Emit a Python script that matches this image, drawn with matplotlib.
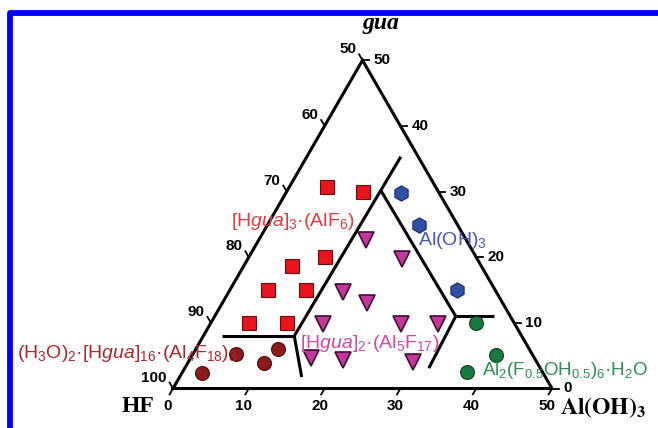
import numpy as np
import matplotlib
matplotlib.use("Agg")
import matplotlib.pyplot as plt
from matplotlib.lines import Line2D

plt.rcParams["mathtext.fontset"] = "custom"
plt.rcParams["mathtext.rm"] = "Liberation Sans"
plt.rcParams["mathtext.it"] = "Liberation Sans:italic"
plt.rcParams["mathtext.bf"] = "Liberation Sans:bold"

# compositions as (Al(OH)3, gua); HF = 100 - Al(OH)3 - gua
square_al = [5, 10, 10, 6.4, 5, 10, 5, 10]
square_gua = [30.7, 30, 20, 18.7, 15, 15, 10, 10]

circle_al = [2.6, 5.7, 10.1, 10.8]
circle_gua = [2.4, 5.3, 3.9, 6.0]

hex_al = [15.2, 20.0, 30.0]
hex_gua = [29.8, 24.9, 15.0]

green_al = [35.0, 40.0, 37.5]
green_gua = [10.0, 5.1, 2.5]

tri_al = [14.2, 20.3, 15.1, 19.1, 14.9, 25.2, 30.0, 15.8, 20.3, 29.6]
tri_gua = [22.6, 19.7, 14.7, 13.0, 9.8, 9.8, 9.8, 4.7, 4.3, 4.0]

# phase boundaries, each segment given as (al0, gua0, al1, gua1)
boundaries = [
    (2.5, 8.0, 12.0, 8.0),
    (12.0, 8.0, 16.1, 1.75),
    (12.0, 8.0, 12.4, 35.3),
    (12.3, 30.2, 31.8, 11.0),
    (31.8, 11.0, 36.8, 11.0),
    (31.8, 11.0, 32.2, 3.1),
]

bottom_ticks = [0, 10, 20, 30, 40, 50]      # Al(OH)3
right_ticks = [0, 10, 20, 30, 40, 50]       # gua
left_ticks = [50, 60, 70, 80, 90, 100]      # HF

H = np.sqrt(3) / 2
PX = 7.58  # pixels per composition unit


def to_xy(al, gua):
    al = np.asarray(al, dtype=float)
    gua = np.asarray(gua, dtype=float)
    return al + gua / 2, gua * H


fig = plt.figure(figsize=(6.58, 4.28), dpi=100)
ax = fig.add_axes([0, 0, 1, 1])
ax.set_xlim(-173 / PX, (658 - 173) / PX)
ax.set_ylim(-(428 - 388.5) / PX, 388.5 / PX)
ax.axis("off")

# outer triangle
tx, ty = to_xy([0, 50, 0, 0], [0, 0, 50, 0])
ax.plot(tx, ty, color="black", lw=2.2, solid_joinstyle="miter", zorder=2)

for a0, g0, a1, g1 in boundaries:
    bx, by = to_xy([a0, a1], [g0, g1])
    ax.plot(bx, by, color="black", lw=2.2, solid_capstyle="butt", zorder=2)

tick_len = 0.9
num_font = dict(family="Liberation Sans", weight="bold", fontsize=11)

# bottom axis: Al(OH)3
for v in bottom_ticks:
    x0, y0 = to_xy(v, 0)
    ax.plot([x0, x0 - 0.5 * tick_len], [y0, y0 - H * tick_len], color="black", lw=1.3)
    ax.text(x0 - 5 / PX, y0 - 17.5 / PX, str(v), ha="center", va="center", **num_font)

# right axis: gua
for v in right_ticks:
    x0, y0 = to_xy(50 - v, v)
    ax.plot([x0, x0 + tick_len], [y0, y0], color="black", lw=1.3)
    ax.text(x0 + 11 / PX, y0, str(v), ha="left", va="center", **num_font)

# left axis: HF
for v in left_ticks:
    x0, y0 = to_xy(0, 100 - v)
    ax.plot([x0, x0 - 0.5 * tick_len], [y0, y0 + H * tick_len], color="black", lw=1.3)
    ax.text(x0 - 6 / PX, y0 + 11 / PX, str(v), ha="right", va="center", **num_font)

# data points
sx, sy = to_xy(square_al, square_gua)
ax.plot(sx, sy, "s", ms=9.5, mfc="#e8151d", mec="#6e0b0b", mew=0.8, ls="none", zorder=3)

cx, cy = to_xy(circle_al, circle_gua)
ax.plot(cx, cy, "o", ms=10, mfc="#8c1a1c", mec="#4a0a0a", mew=0.8, ls="none", zorder=3)

hx, hy = to_xy(hex_al, hex_gua)
ax.plot(hx, hy, "h", ms=11, mfc="#2f4ea6", mec="#1a2860", mew=0.8, ls="none", zorder=3)

gx, gy = to_xy(green_al, green_gua)
ax.plot(gx, gy, "o", ms=10, mfc="#17793e", mec="#0c4020", mew=0.8, ls="none", zorder=3)

vx, vy = to_xy(tri_al, tri_gua)
ax.plot(vx, vy, "v", ms=11, mfc="#c4379c", mec="#3c0f30", mew=1.2, ls="none", zorder=3)

# phase labels
lab_font = dict(family="Liberation Sans", fontsize=14, ha="center", va="center", zorder=4)
ax.text(15.83, 21.97, r"[H$\mathit{gua}$]$_3$·(AlF$_6$)", color="#e23a40", **lab_font)
ax.text(36.81, 19.59, r"Al(OH)$_3$", color="#4858b2", **lab_font)
ax.text(-6.07, 4.68, r"(H$_3$O)$_2$·[H$\mathit{gua}$]$_{16}$·(Al$_4$F$_{18}$)$_3$",
        color="#a3292e", **lab_font)
ax.text(25.99, 6.0, r"[H$\mathit{gua}$]$_2$·(Al$_5$F$_{17}$)", color="#d246a6", **lab_font)
ax.text(51.72, 2.44, r"Al$_2$(F$_{0.5}$OH$_{0.5}$)$_6$·H$_2$O", color="#2f8c52",
        **{**lab_font, "fontsize": 13.5})

# corner titles
ax.text(27.44, 48.2, "gua", family="Liberation Serif", weight="bold", style="italic",
        fontsize=17, ha="center", va="center")
ax.text(-4.62, -2.31, "HF", family="Liberation Serif", weight="bold",
        fontsize=17, ha="center", va="center")
ax.text(51.06, -2.57, r"$\mathbf{Al(OH)_3}$", math_fontfamily="stix",
        fontsize=17, ha="left", va="center")

# blue frame
fig.add_artist(Line2D([10 / 658, 10 / 658, 1.02], [-0.02, 1 - 12.5 / 428, 1 - 12.5 / 428],
                      transform=fig.transFigure, color="#0000ff", lw=4.2))

fig.savefig("out.png", dpi=100)
